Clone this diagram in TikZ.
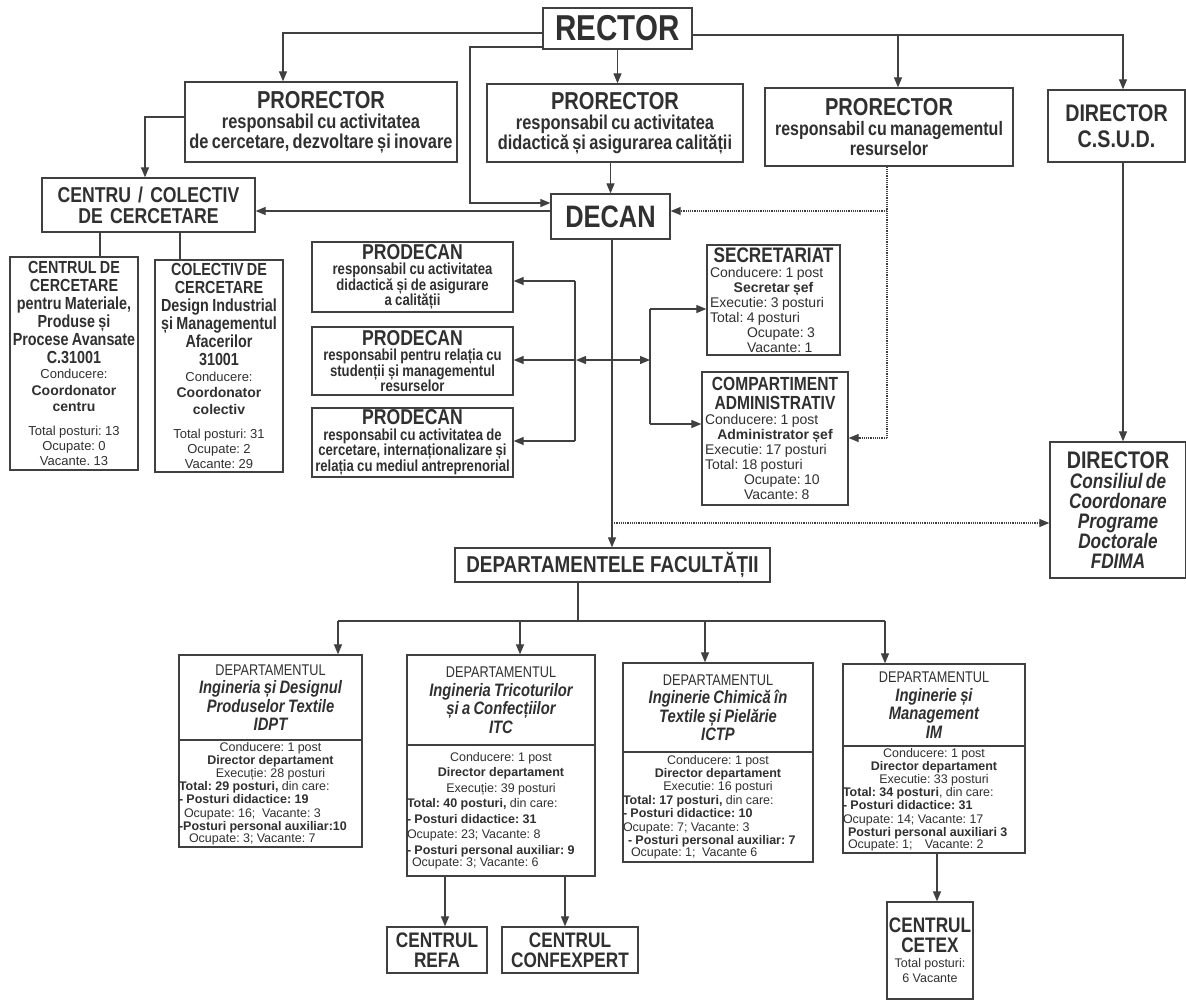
\documentclass[tikz,border=0pt]{standalone}
\usepackage{fontspec}
\setmainfont{Liberation Sans}[FakeStretch=0.82]
\newfontfamily\reg{Liberation Sans}
\usetikzlibrary{arrows.meta}
\setlength{\parindent}{0pt}
\frenchspacing
\newcommand\fs[2]{\fontsize{#1}{#2}\selectfont}
\newcommand\ctrline[1]{\makebox[\hsize][c]{#1}}
\definecolor{ink}{HTML}{303030}
\definecolor{edge}{HTML}{404040}
\begin{document}
\begin{tikzpicture}[x=1pt,y=-1pt,
 bx/.style={draw=edge, line width=1.3pt, text=ink, inner xsep=0pt, inner ysep=1pt, align=center, fill=white},
 bl/.style={bx, align=left},
 arr/.style={draw=edge, line width=1.2pt, -{Triangle[length=10pt,width=8pt]}},
 ln/.style={draw=edge, line width=1.2pt},
 dt/.style={draw=edge, line width=1.2pt, densely dotted},
 dta/.style={dt, -{Triangle[length=10pt,width=8pt]}},
]
\path[use as bounding box, fill=white] (0,0) rectangle (1186,999);

% top level
\node[bx, minimum width=149pt, minimum height=41pt, font={\fs{36}{38}\bfseries}] (rector) at (617.5,28.5) {RECTOR};
\node[bx, text width=272pt, minimum height=80pt] (pr1) at (321,122)
 {{\fs{24.5}{25}\bfseries PRORECTOR\par}{\fs{20}{20}\bfseries responsabil cu activitatea\\de cercetare, dezvoltare și inovare\par}};
\node[bx, text width=256pt, minimum height=78pt] (pr2) at (615,123)
 {{\fs{24.5}{25}\bfseries PRORECTOR\par}{\fs{20}{20}\bfseries responsabil cu activitatea\\didactică și asigurarea calității\par}};
\node[bx, text width=248pt, minimum height=78pt] (pr3) at (889,127)
 {{\fs{24.5}{25}\bfseries PRORECTOR\par}{\fs{19.5}{20}\bfseries responsabil cu managementul\\resurselor\par}};
\node[bx, text width=137pt, minimum height=72pt, font={\fs{24}{26}\bfseries}] (csud) at (1116.5,126)
 {DIRECTOR\\C.S.U.D.};
\node[bx, text width=213pt, minimum height=54pt, font={\fs{21.5}{21}\bfseries}] (centru) at (148.5,205)
 {CENTRU / COLECTIV\\DE CERCETARE};
\node[bx, minimum width=119pt, minimum height=45pt, font={\fs{31}{32}\bfseries}] (decan) at (610.5,216.5) {DECAN};

% research centres
\node[bx, text width=128pt, minimum height=213pt] (cdc1) at (74,363.5)
 {{\fs{17.5}{18}\bfseries CENTRUL DE\\CERCETARE\\pentru Materiale,\\Produse și\\Procese Avansate\\C.31001\par}
  {\reg\fs{13}{15.5}Conducere:\par}
  {\reg\fs{14}{16.5}\bfseries Coordonator\\centru\par}
  \vspace{9pt}
  {\reg\fs{13}{15}Total posturi: 13\\Ocupate: 0\\Vacante. 13\par}};
\node[bx, text width=128pt, minimum height=212pt] (cdc2) at (219,366)
 {{\fs{17.5}{18}\bfseries COLECTIV DE\\CERCETARE\\Design Industrial\\și Managementul\\Afacerilor\\31001\par}
  {\reg\fs{13}{15.5}Conducere:\par}
  {\reg\fs{14}{16.5}\bfseries Coordonator\\colectiv\par}
  \vspace{9pt}
  {\reg\fs{13}{15}Total posturi: 31\\Ocupate: 2\\Vacante: 29\par}};

% prodecans
\node[bx, text width=201pt, minimum height=70pt] (pd1) at (412.5,277)
 {{\fs{21.5}{22}\bfseries PRODECAN\par}{\fs{16}{15.5}\bfseries responsabil cu activitatea\\didactică și de asigurare\\a calității\par}};
\node[bx, text width=201pt, minimum height=68pt] (pd2) at (412.5,361)
 {{\fs{21.5}{22}\bfseries PRODECAN\par}{\fs{16}{15.5}\bfseries responsabil pentru relația cu\\studenții și managementul\\resurselor\par}};
\node[bx, text width=201pt, minimum height=69pt] (pd3) at (412.5,442.5)
 {{\fs{21.5}{22}\bfseries PRODECAN\par}{\fs{16}{15.5}\bfseries responsabil cu activitatea de\\cercetare, internaționalizare și\\relația cu mediul antreprenorial\par}};

% secretariat, compartiment
\node[bl, text width=133pt, minimum height=110pt] (sec) at (773.5,300)
 {{\fs{21}{22}\bfseries\ctrline{SECRETARIAT}\par}
  {\reg\fs{14}{15}\hspace*{3pt}Conducere: 1 post\\
   \ctrline{\bfseries Secretar șef}\\
   \hspace*{3pt}Executie: 3 posturi\\
   \hspace*{3pt}Total: 4 posturi\\
   \hspace*{40pt}Ocupate: 3\\
   \hspace*{40pt}Vacante: 1\par}};
\node[bl, text width=146pt, minimum height=133pt] (comp) at (775,438.5)
 {{\fs{19}{19}\bfseries\ctrline{COMPARTIMENT}\\\ctrline{ADMINISTRATIV}\par}
  {\reg\fs{14}{15}\hspace*{3pt}Conducere: 1 post\\
   \ctrline{\bfseries Administrator șef}\\
   \hspace*{3pt}Executie: 17 posturi\\
   \hspace*{3pt}Total: 18 posturi\\
   \hspace*{42pt}Ocupate: 10\\
   \hspace*{42pt}Vacante: 8\par}};

\node[bx, text width=136pt, minimum height=136pt] (fdima) at (1118,510)
 {{\fs{24}{24}\bfseries DIRECTOR\par}{\fs{21}{20}\bfseries\itshape Consiliul de\\Coordonare\\Programe\\Doctorale\\FDIMA\par}};

\node[bx, minimum width=315pt, minimum height=34pt, font={\fs{23}{24}\bfseries}] (dept) at (612.5,565) {DEPARTAMENTELE FACULTĂȚII};

% departments
\node[bx, text width=183pt, minimum height=85pt] (idpth) at (270.5,697.5)
 {{\fs{15.5}{18.5}DEPARTAMENTUL\par}{\fs{18}{18.5}\bfseries\itshape Ingineria și Designul\\Produselor Textile\\IDPT\par}};
\node[bl, text width=183pt, minimum height=107pt] (idptb) at (270.5,793.5)
 {\reg\fs{12.5}{13.2}\ctrline{Conducere: 1 post}\\
  \ctrline{\bfseries Director departament}\\
  \ctrline{Execuție: 28 posturi}\\
  \textbf{Total: 29 posturi,} din care:\\
  \textbf{- Posturi didactice: 19}\\
  \hspace*{5pt}Ocupate: 16;\ \ Vacante: 3\\
  \textbf{-Posturi personal auxiliar:10}\\
  \hspace*{10pt}Ocupate: 3; Vacante: 7};

\node[bx, text width=188pt, minimum height=90pt] (itch) at (501,700)
 {{\fs{15.5}{18.5}DEPARTAMENTUL\par}{\fs{18}{18.5}\bfseries\itshape Ingineria Tricoturilor\\și a Confecțiilor\\ITC\par}};
\node[bl, text width=188pt, minimum height=131pt] (itcb) at (501,810.5)
 {\reg\fs{12.5}{15.5}\ctrline{Conducere: 1 post}\\
  \ctrline{\bfseries Director departament}\\
  \ctrline{Execuție: 39 posturi}\\
  \textbf{Total: 40 posturi,} din care:\\
  \textbf{- Posturi didactice: 31}\\
  Ocupate: 23; Vacante: 8\\
  \textbf{- Posturi personal auxiliar: 9}\\
  \hspace*{5pt}Ocupate: 3; Vacante: 6};

\node[bx, text width=190pt, minimum height=89pt] (ictph) at (718,707.5)
 {{\fs{15.5}{18.5}DEPARTAMENTUL\par}{\fs{18}{18.5}\bfseries\itshape Inginerie Chimică în\\Textile și Pielărie\\ICTP\par}};
\node[bl, text width=190pt, minimum height=110pt] (ictpb) at (718,807)
 {\reg\fs{12.5}{13.4}\ctrline{Conducere: 1 post}\\
  \ctrline{\bfseries Director departament}\\
  \ctrline{Executie: 16 posturi}\\
  \textbf{Total: 17 posturi,} din care:\\
  \textbf{- Posturi didactice: 10}\\
  Ocupate: 7; Vacante: 3\\
  \hspace*{5pt}\textbf{- Posturi personal auxiliar: 7}\\
  \hspace*{8pt}Ocupate: 1;\ \ Vacante 6};

\node[bx, text width=182pt, minimum height=82pt] (imh) at (934,705)
 {{\fs{15.5}{18.5}DEPARTAMENTUL\par}{\fs{18}{18.5}\bfseries\itshape Inginerie și\\Management\\IM\par}};
\node[bl, text width=182pt, minimum height=107pt] (imb) at (934,799.5)
 {\reg\fs{12.5}{13.2}\ctrline{Conducere: 1 post}\\
  \ctrline{\bfseries Director departament}\\
  \ctrline{Executie: 33 posturi}\\
  \textbf{Total: 34 posturi}, din care:\\
  \textbf{- Posturi didactice: 31}\\
  Ocupate: 14; Vacante: 17\\
  \hspace*{5pt}\textbf{Posturi personal auxiliari 3}\\
  \hspace*{5pt}Ocupate: 1;\quad Vacante: 2};

% centres under departments
\node[bx, minimum width=100pt, minimum height=46pt, font={\fs{21}{20}\bfseries}] (refa) at (437,950) {CENTRUL\\REFA};
\node[bx, minimum width=136pt, minimum height=46pt, font={\fs{21}{20}\bfseries}] (confx) at (570,950) {CENTRUL\\CONFEXPERT};
\node[bx, text width=86pt, minimum height=97pt] (cetex) at (930,950.5)
 {{\fs{21}{20}\bfseries CENTRUL\\CETEX\par}{\reg\fs{12.5}{15}Total posturi:\\6 Vacante\par}};

% ---------- connectors ----------
\coordinate (a1) at (283,33);
\draw[arr] (rector.west |- a1) -- (a1) -- (pr1.north -| a1);
\coordinate (a2) at (470,47);
\coordinate (a2b) at (470,203);
\draw[arr] (rector.west |- a2) -- (a2) -- (a2b) -- (decan.west |- a2b);
\draw[arr] (rector.south) -- (rector.south |- pr2.north);
\coordinate (a3) at (1123,35);
\draw[arr] (rector.east |- a3) -- (a3) -- (csud.north -| a3);
\coordinate (a4) at (898,35);
\draw[arr] (a4) -- (pr3.north -| a4);
\coordinate (a5) at (145,117);
\draw[arr] (pr1.west |- a5) -- (a5) -- (centru.north -| a5);
\draw[arr] (decan.north |- pr2.south) -- (decan.north);
\coordinate (a6) at (560,211);
\draw[arr] (decan.west |- a6) -- (centru.east |- a6);

\coordinate (d1) at (887,211);
\coordinate (d2) at (887,438);
\draw[dt] (pr3.south -| d1) -- (d2);
\draw[dta] (d2) -- (comp.east |- d2);
\draw[dta] (d1) -- (decan.east |- d1);

\coordinate (fd) at (1123,300);
\draw[arr] (csud.south -| fd) -- (fdima.north -| fd);

\coordinate (c1) at (100,240);
\coordinate (c2) at (180,240);
\draw[ln] (centru.south -| c1) -- (cdc1.north -| c1);
\draw[ln] (centru.south -| c2) -- (cdc2.north -| c2);

\coordinate (dk) at (612,400);
\draw[arr] (decan.south -| dk) -- (dept.north -| dk);
\coordinate (d3) at (612,523);
\draw[dta] (d3) -- (fdima.west |- d3);

\coordinate (m) at (612,360);
\coordinate (lb) at (576,360);
\coordinate (rb) at (650,360);
\draw[arr] (m) -- (lb);
\draw[arr] (m) -- (rb);
\coordinate (lt) at (575,281);
\coordinate (lbt) at (575,441);
\draw[ln] (lt) -- (lbt);
\draw[arr] (lt) -- (pd1.east |- lt);
\draw[arr] (lb) -- (pd2.east |- lb);
\draw[arr] (lbt) -- (pd3.east |- lbt);
\coordinate (rt) at (650,309);
\coordinate (rbt) at (650,424);
\draw[ln] (rt) -- (rbt);
\draw[arr] (rt) -- (sec.west |- rt);
\draw[arr] (rbt) -- (comp.west |- rbt);

\coordinate (h) at (578,621);
\draw[ln] (dept.south -| h) -- (h);
\coordinate (hl) at (338,621);
\coordinate (hr) at (885,621);
\coordinate (h2) at (520,621);
\coordinate (h3) at (705,621);
\draw[ln] (hl) -- (hr);
\draw[arr] (hl) -- (idpth.north -| hl);
\draw[arr] (h2) -- (itch.north -| h2);
\draw[arr] (h3) -- (ictph.north -| h3);
\draw[arr] (hr) -- (imh.north -| hr);

\coordinate (r1) at (445,900);
\coordinate (r2) at (565,900);
\coordinate (r3) at (937,880);
\draw[arr] (itcb.south -| r1) -- (refa.north -| r1);
\draw[arr] (itcb.south -| r2) -- (confx.north -| r2);
\draw[arr] (imb.south -| r3) -- (cetex.north -| r3);
\end{tikzpicture}
\end{document}
